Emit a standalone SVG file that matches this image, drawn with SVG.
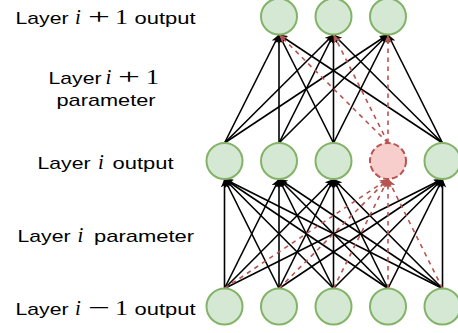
<svg xmlns="http://www.w3.org/2000/svg" width="458" height="333" viewBox="0 0 458 333">
<defs>
<style>
.lbl{font-family:"Liberation Sans",Arial,sans-serif;font-size:17px;fill:#000}
.m{font-family:"Liberation Serif","Times New Roman",serif;font-size:20px;fill:#000}
.op{font-family:"Liberation Serif","Times New Roman",serif;font-size:22px;fill:#000}
.mi{font-family:"Liberation Serif","Times New Roman",serif;font-size:21px;font-style:italic;fill:#000}
.n{fill:#d5e8d4;stroke:#82b366;stroke-width:2}
.nr{fill:#f8cecc;stroke:#b85450;stroke-width:2;stroke-dasharray:6 3}
.e line{stroke:#000;stroke-width:1.6;fill:none;marker-end:url(#ab)}
.e .r{stroke:#b85450;stroke-dasharray:4.5 4.5;marker-end:url(#ar)}
</style>
<marker id="ab" markerUnits="userSpaceOnUse" markerWidth="10" markerHeight="8" refX="8.5" refY="3.75" orient="auto"><path d="M0,0 L8.5,3.75 L0,7.5 L2.2,3.75 Z" fill="#000"/></marker>
<marker id="ar" markerUnits="userSpaceOnUse" markerWidth="10" markerHeight="8" refX="8.5" refY="3.75" orient="auto"><path d="M0,0 L8.5,3.75 L0,7.5 L2.2,3.75 Z" fill="#b85450"/></marker>
</defs>
<rect width="458" height="333" fill="#fff"/>
<g id="label-top">
<text class="lbl" x="15.5" y="24" textLength="53" lengthAdjust="spacingAndGlyphs">Layer</text>
<text class="mi" x="75" y="24">i</text>
<text class="op" x="88" y="24" textLength="22" lengthAdjust="spacingAndGlyphs">+</text>
<text class="m" x="115" y="24" textLength="13" lengthAdjust="spacingAndGlyphs">1</text>
<text class="lbl" x="134.5" y="24" textLength="61" lengthAdjust="spacingAndGlyphs">output</text>
</g>
<g id="label-param-top">
<text class="lbl" x="48.5" y="84" textLength="53" lengthAdjust="spacingAndGlyphs">Layer</text>
<text class="mi" x="105.5" y="84">i</text>
<text class="op" x="118" y="84" textLength="22" lengthAdjust="spacingAndGlyphs">+</text>
<text class="m" x="146" y="84" textLength="13" lengthAdjust="spacingAndGlyphs">1</text>
<text class="lbl" x="56.5" y="106" textLength="99" lengthAdjust="spacingAndGlyphs">parameter</text>
</g>
<g id="label-mid">
<text class="lbl" x="37.5" y="169" textLength="53" lengthAdjust="spacingAndGlyphs">Layer</text>
<text class="mi" x="98" y="169">i</text>
<text class="lbl" x="112.5" y="169" textLength="61" lengthAdjust="spacingAndGlyphs">output</text>
</g>
<g id="label-param-bot">
<text class="lbl" x="17.5" y="242" textLength="53" lengthAdjust="spacingAndGlyphs">Layer</text>
<text class="mi" x="77.5" y="242">i</text>
<text class="lbl" x="94" y="242" textLength="100" lengthAdjust="spacingAndGlyphs">parameter</text>
</g>
<g id="label-bot">
<text class="lbl" x="15.5" y="315" textLength="53" lengthAdjust="spacingAndGlyphs">Layer</text>
<text class="mi" x="75" y="315">i</text>
<text class="op" x="88" y="315" textLength="22" lengthAdjust="spacingAndGlyphs">−</text>
<text class="m" x="115" y="315" textLength="13" lengthAdjust="spacingAndGlyphs">1</text>
<text class="lbl" x="134.5" y="315" textLength="61" lengthAdjust="spacingAndGlyphs">output</text>
</g>
<g id="connectors" class="e">
<line x1="224.5" y1="288.5" x2="224.5" y2="179"/>
<line x1="279" y1="288.5" x2="224.5" y2="179"/>
<line x1="333.5" y1="288.5" x2="224.5" y2="179"/>
<line x1="388" y1="288.5" x2="224.5" y2="179"/>
<line x1="442.5" y1="288.5" x2="224.5" y2="179"/>
<line x1="224.5" y1="288.5" x2="279" y2="179"/>
<line x1="279" y1="288.5" x2="279" y2="179"/>
<line x1="333.5" y1="288.5" x2="279" y2="179"/>
<line x1="388" y1="288.5" x2="279" y2="179"/>
<line x1="442.5" y1="288.5" x2="279" y2="179"/>
<line x1="224.5" y1="288.5" x2="333.5" y2="179"/>
<line x1="279" y1="288.5" x2="333.5" y2="179"/>
<line x1="333.5" y1="288.5" x2="333.5" y2="179"/>
<line x1="388" y1="288.5" x2="333.5" y2="179"/>
<line x1="442.5" y1="288.5" x2="333.5" y2="179"/>
<line x1="224.5" y1="288.5" x2="442.5" y2="179"/>
<line x1="279" y1="288.5" x2="442.5" y2="179"/>
<line x1="333.5" y1="288.5" x2="442.5" y2="179"/>
<line x1="388" y1="288.5" x2="442.5" y2="179"/>
<line x1="442.5" y1="288.5" x2="442.5" y2="179"/>
<line x1="224.5" y1="143" x2="279" y2="34.5"/>
<line x1="279" y1="143" x2="279" y2="34.5"/>
<line x1="333.5" y1="143" x2="279" y2="34.5"/>
<line x1="442.5" y1="143" x2="279" y2="34.5"/>
<line x1="224.5" y1="143" x2="333.5" y2="34.5"/>
<line x1="279" y1="143" x2="333.5" y2="34.5"/>
<line x1="333.5" y1="143" x2="333.5" y2="34.5"/>
<line x1="442.5" y1="143" x2="333.5" y2="34.5"/>
<line x1="224.5" y1="143" x2="388" y2="34.5"/>
<line x1="279" y1="143" x2="388" y2="34.5"/>
<line x1="333.5" y1="143" x2="388" y2="34.5"/>
<line x1="442.5" y1="143" x2="388" y2="34.5"/>
<line class="r" x1="224.5" y1="288.5" x2="388" y2="179"/>
<line class="r" x1="279" y1="288.5" x2="388" y2="179"/>
<line class="r" x1="333.5" y1="288.5" x2="388" y2="179"/>
<line class="r" x1="388" y1="288.5" x2="388" y2="179"/>
<line class="r" x1="442.5" y1="288.5" x2="388" y2="179"/>
<line class="r" x1="388" y1="143" x2="279" y2="34.5"/>
<line class="r" x1="388" y1="143" x2="333.5" y2="34.5"/>
<line class="r" x1="388" y1="143" x2="388" y2="34.5"/>
</g>
<g id="top1"><circle class="n" cx="279" cy="16.5" r="18"/></g>
<g id="top2"><circle class="n" cx="333.5" cy="16.5" r="18"/></g>
<g id="top3"><circle class="n" cx="388" cy="16.5" r="18"/></g>
<g id="mid1"><circle class="n" cx="224.5" cy="161" r="18"/></g>
<g id="mid2"><circle class="n" cx="279" cy="161" r="18"/></g>
<g id="mid3"><circle class="n" cx="333.5" cy="161" r="18"/></g>
<g id="mid4"><circle class="nr" cx="388" cy="161" r="18"/></g>
<g id="mid5"><circle class="n" cx="442.5" cy="161" r="18"/></g>
<g id="bot1"><circle class="n" cx="224.5" cy="306.5" r="18"/></g>
<g id="bot2"><circle class="n" cx="279" cy="306.5" r="18"/></g>
<g id="bot3"><circle class="n" cx="333.5" cy="306.5" r="18"/></g>
<g id="bot4"><circle class="n" cx="388" cy="306.5" r="18"/></g>
<g id="bot5"><circle class="n" cx="442.5" cy="306.5" r="18"/></g>
</svg>
